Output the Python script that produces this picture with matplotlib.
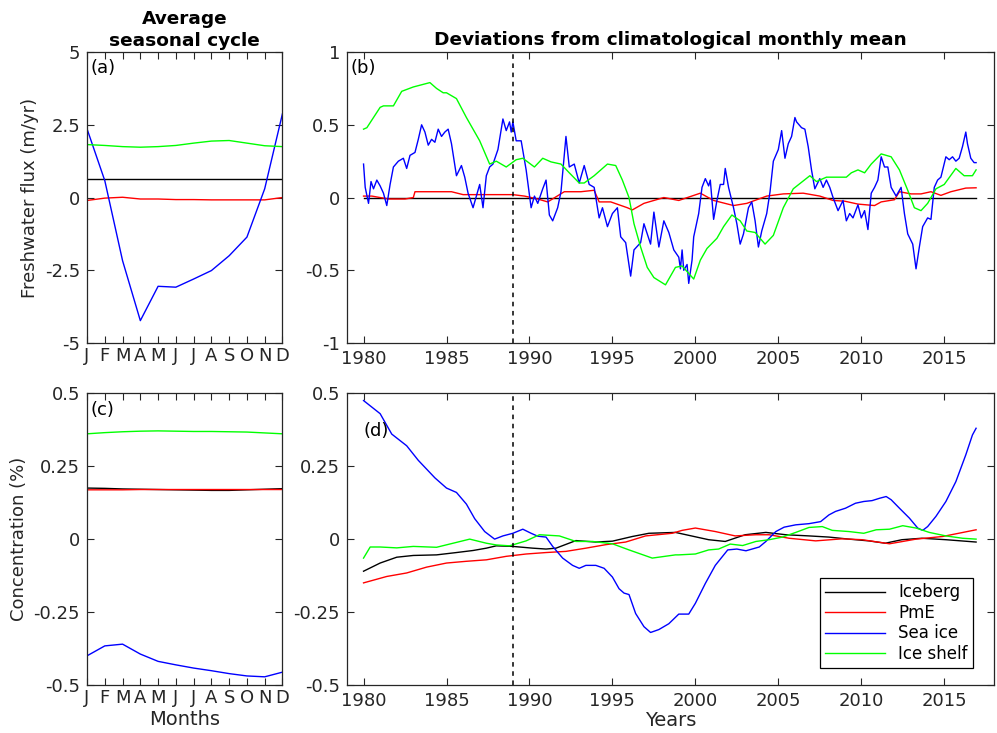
import matplotlib
matplotlib.use("Agg")
import matplotlib.pyplot as plt
from matplotlib.ticker import FuncFormatter

# ---- seasonal cycle (a), (c) ----
months = ['J', 'F', 'M', 'A', 'M', 'J', 'J', 'A', 'S', 'O', 'N', 'D']
month_num = list(range(1, 13))

a_iceberg = [0.63] * 12
a_pme = [-0.10, -0.02, 0.01, -0.05, -0.05, -0.07, -0.07, -0.08, -0.08, -0.08, -0.08, 0.0]
a_seaice = [2.36, 0.58, -2.17, -4.23, -3.05, -3.08, -2.80, -2.51, -2.00, -1.36, 0.30, 2.88]
a_iceshelf = [1.82, 1.79, 1.75, 1.73, 1.75, 1.79, 1.87, 1.94, 1.96, 1.87, 1.78, 1.75]

c_iceberg = [0.175, 0.174, 0.172, 0.171, 0.170, 0.169, 0.168, 0.167, 0.167, 0.169, 0.171, 0.173]
c_pme = [0.169, 0.169, 0.169, 0.170, 0.170, 0.170, 0.170, 0.170, 0.170, 0.170, 0.170, 0.170]
c_seaice = [-0.400, -0.366, -0.360, -0.394, -0.419, -0.431, -0.442, -0.451, -0.461, -0.469, -0.472, -0.456]
c_iceshelf = [0.361, 0.365, 0.368, 0.370, 0.371, 0.370, 0.369, 0.369, 0.368, 0.367, 0.364, 0.361]

# ---- deviations (b) ----
b_iceberg_t = [1980.0, 2016.92]
b_iceberg_v = [0.0, 0.0]

b_pme_t = [1980.0, 1980.5, 1981.0, 1981.5, 1982.0, 1982.5, 1983.0, 1983.1, 1984.0, 1985.0, 1985.3,
           1986.0, 1987.0, 1988.0, 1989.0, 1989.7, 1990.5, 1991.1, 1992.1, 1993.1, 1993.9, 1994.2,
           1994.9, 1995.9, 1996.2, 1996.9, 1998.1, 1999.0, 2000.3, 2001.1, 2002.3, 2003.1, 2004.3,
           2005.3, 2006.5, 2007.5, 2008.3, 2009.0, 2009.8, 2010.8, 2011.2, 2012.0, 2012.3, 2013.0,
           2013.6, 2014.2, 2014.8, 2015.4, 2016.3, 2016.92]
b_pme_v = [0.01, 0.01, 0.0, -0.01, -0.01, -0.01, 0.0, 0.04, 0.04, 0.04, 0.04,
           0.02, 0.02, 0.02, 0.02, 0.01, -0.01, -0.03, 0.04, 0.04, 0.05, -0.03,
           -0.03, -0.07, -0.085, -0.04, 0.0, -0.02, 0.03, -0.02, -0.055, -0.04, 0.01,
           0.025, 0.03, 0.01, -0.02, -0.025, -0.045, -0.055, -0.03, -0.015, 0.04, 0.025,
           0.025, 0.04, 0.015, 0.04, 0.065, 0.067]

b_seaice_t = [1980.0, 1980.1, 1980.3, 1980.45, 1980.6, 1980.8, 1981.0, 1981.2, 1981.4, 1981.6, 1981.8,
              1982.1, 1982.4, 1982.6, 1982.8, 1983.1, 1983.3, 1983.5, 1983.7, 1983.9, 1984.1, 1984.3,
              1984.5, 1984.7, 1984.9, 1985.1, 1985.3, 1985.6, 1985.9, 1986.1, 1986.3, 1986.6, 1986.8,
              1987.0, 1987.2, 1987.4, 1987.6, 1987.8, 1988.1, 1988.4, 1988.6, 1988.8, 1988.9, 1989.0,
              1989.2, 1989.5, 1989.8, 1990.1, 1990.3, 1990.5, 1990.8, 1991.0, 1991.2, 1991.4, 1991.7,
              1991.9, 1992.2, 1992.4, 1992.7, 1993.0, 1993.3, 1993.6, 1993.9, 1994.2, 1994.4, 1994.7,
              1995.0, 1995.3, 1995.5, 1995.8, 1996.1, 1996.3, 1996.7, 1996.9, 1997.3, 1997.5, 1997.8,
              1998.1, 1998.4, 1998.7, 1999.0, 1999.1, 1999.2, 1999.3, 1999.5, 1999.6, 1999.8, 1999.9,
              2000.2, 2000.4, 2000.6, 2000.8, 2000.9, 2001.1, 2001.3, 2001.5, 2001.7, 2001.8, 2002.0,
              2002.3, 2002.5, 2002.7, 2002.9, 2003.2, 2003.4, 2003.6, 2003.8, 2004.0, 2004.3, 2004.5,
              2004.7, 2005.0, 2005.2, 2005.4, 2005.6, 2005.8, 2006.0, 2006.1, 2006.4, 2006.6, 2006.8,
              2007.0, 2007.2, 2007.5, 2007.7, 2007.9, 2008.1, 2008.3, 2008.6, 2008.9, 2009.1, 2009.3,
              2009.5, 2009.8, 2010.0, 2010.2, 2010.4, 2010.6, 2010.8, 2011.0, 2011.2, 2011.4, 2011.6,
              2011.8, 2012.1, 2012.4, 2012.6, 2012.8, 2013.1, 2013.3, 2013.5, 2013.7, 2014.0, 2014.2,
              2014.4, 2014.6, 2014.8, 2015.1, 2015.3, 2015.5, 2015.7, 2015.9, 2016.1, 2016.3, 2016.4,
              2016.6, 2016.8, 2016.92]
b_seaice_v = [0.23, 0.07, -0.04, 0.11, 0.06, 0.12, 0.08, 0.03, -0.055, 0.09, 0.21,
              0.25, 0.27, 0.20, 0.29, 0.31, 0.40, 0.50, 0.45, 0.36, 0.40, 0.38,
              0.47, 0.42, 0.45, 0.47, 0.37, 0.15, 0.22, 0.14, 0.03, -0.07, 0.01,
              0.09, -0.07, 0.15, 0.21, 0.23, 0.33, 0.54, 0.46, 0.52, 0.45, 0.52,
              0.39, 0.39, 0.19, -0.07, 0.01, -0.04, 0.06, 0.12, -0.12, -0.16, -0.07,
              0.04, 0.42, 0.21, 0.23, 0.10, 0.22, 0.09, 0.07, -0.14, -0.07, -0.20,
              -0.11, -0.07, -0.27, -0.31, -0.54, -0.36, -0.31, -0.18, -0.32, -0.10, -0.34,
              -0.16, -0.24, -0.36, -0.41, -0.49, -0.36, -0.50, -0.46, -0.59, -0.43, -0.27,
              -0.11, 0.07, 0.13, 0.08, 0.12, -0.15, -0.02, 0.09, 0.09, 0.20, 0.07,
              -0.07, -0.18, -0.32, -0.25, -0.07, -0.03, -0.16, -0.34, -0.23, -0.11, 0.04,
              0.25, 0.33, 0.46, 0.27, 0.37, 0.42, 0.55, 0.52, 0.48, 0.47, 0.35,
              0.19, 0.06, 0.13, 0.07, 0.12, 0.07, 0.0, -0.09, -0.02, -0.16, -0.11,
              -0.14, -0.05, -0.14, -0.09, -0.22, 0.03, 0.07, 0.12, 0.28, 0.21, 0.21,
              0.07, 0.01, 0.07, -0.11, -0.25, -0.32, -0.49, -0.34, -0.20, -0.14, -0.15,
              0.07, 0.12, 0.14, 0.28, 0.26, 0.28, 0.25, 0.27, 0.35, 0.45, 0.37,
              0.27, 0.24, 0.24]

b_iceshelf_t = [1980.0, 1980.2, 1981.0, 1981.2, 1981.8, 1982.3, 1983.0, 1984.0, 1984.4, 1984.8, 1985.0,
                1985.6, 1986.2, 1987.0, 1987.6, 1988.0, 1988.6, 1989.2, 1989.6, 1990.3, 1990.8, 1991.3,
                1991.9, 1992.4, 1993.0, 1993.3, 1993.9, 1994.7, 1995.2, 1995.6, 1996.0, 1996.3, 1996.7,
                1997.1, 1997.5, 1998.2, 1998.8, 1999.2, 1999.9, 2000.3, 2000.7, 2001.3, 2001.7, 2002.2,
                2002.7, 2003.1, 2003.6, 2004.2, 2004.7, 2005.3, 2005.9, 2006.9, 2007.3, 2007.9, 2009.1,
                2009.4, 2009.8, 2010.2, 2010.6, 2011.2, 2011.8, 2012.3, 2012.8, 2013.2, 2013.6, 2014.0,
                2014.5, 2015.0, 2015.7, 2016.2, 2016.7, 2016.92]
b_iceshelf_v = [0.47, 0.48, 0.62, 0.63, 0.63, 0.73, 0.76, 0.79, 0.75, 0.72, 0.72,
                0.68, 0.55, 0.39, 0.23, 0.25, 0.21, 0.26, 0.27, 0.21, 0.27, 0.245,
                0.23, 0.17, 0.10, 0.10, 0.15, 0.23, 0.22, 0.12, 0.0, -0.18, -0.34,
                -0.48, -0.55, -0.60, -0.48, -0.47, -0.56, -0.43, -0.35, -0.28, -0.20, -0.12,
                -0.16, -0.23, -0.24, -0.32, -0.26, -0.07, 0.06, 0.15, 0.11, 0.14, 0.14,
                0.17, 0.19, 0.17, 0.23, 0.30, 0.28, 0.19, 0.05, -0.07, -0.09, -0.04,
                0.06, 0.09, 0.20, 0.15, 0.15, 0.19]

# ---- deviations (d) ----
d_iceberg_t = [1980.0, 1981.0, 1982.0, 1983.0, 1984.4, 1985.6, 1986.6, 1987.4, 1988.0, 1989.0, 1990.2,
               1991.0, 1991.6, 1992.8, 1994.0, 1995.0, 1996.2, 1997.2, 1998.8, 1999.6, 2000.8, 2001.8,
               2003.0, 2004.25, 2005.45, 2006.85, 2008.05, 2009.25, 2010.45, 2011.45, 2012.45, 2013.65,
               2015.1, 2016.92]
d_iceberg_v = [-0.11, -0.082, -0.062, -0.056, -0.054, -0.046, -0.039, -0.031, -0.023, -0.025, -0.031,
               -0.034, -0.031, -0.005, -0.01, -0.007, 0.009, 0.02, 0.023, 0.013, -0.002, -0.008,
               0.015, 0.023, 0.015, 0.011, 0.007, 0.0, -0.006, -0.014, -0.002, 0.003,
               -0.002, -0.01]

d_pme_t = [1980.0, 1981.4, 1982.6, 1983.8, 1985.0, 1986.2, 1987.4, 1988.6, 1989.8, 1991.0, 1992.2,
           1993.4, 1994.6, 1995.8, 1997.0, 1998.6, 1999.2, 2000.0, 2001.2, 2002.4, 2003.65, 2004.45,
           2005.65, 2007.25, 2008.85, 2010.05, 2011.7, 2013.3, 2014.9, 2016.92]
d_pme_v = [-0.15, -0.128, -0.116, -0.096, -0.082, -0.076, -0.071, -0.059, -0.051, -0.046, -0.042,
           -0.031, -0.019, -0.01, 0.011, 0.02, 0.03, 0.038, 0.026, 0.011, 0.015, 0.015,
           0.003, -0.006, 0.001, -0.002, -0.016, 0.0, 0.009, 0.032]

d_seaice_t = [1980.0, 1981.0, 1981.7, 1982.6, 1983.3, 1983.8, 1984.3, 1985.0, 1985.6, 1986.2, 1986.7,
              1987.3, 1987.9, 1988.4, 1989.0, 1989.6, 1990.1, 1990.5, 1991.0, 1991.4, 1992.0, 1992.6,
              1993.0, 1993.4, 1994.0, 1994.5, 1995.0, 1995.4, 1995.7, 1996.0, 1996.4, 1996.9, 1997.3,
              1997.8, 1998.4, 1999.0, 1999.6, 2000.0, 2000.6, 2001.2, 2001.95, 2002.5, 2003.05, 2003.85,
              2004.25, 2004.85, 2005.35, 2006.05, 2006.85, 2007.55, 2008.05, 2008.45, 2009.05, 2009.65,
              2010.15, 2010.65, 2011.1, 2011.5, 2011.8, 2012.3, 2012.9, 2013.4, 2013.7, 2014.0, 2014.5,
              2015.1, 2015.7, 2016.3, 2016.7, 2016.92]
d_seaice_v = [0.475, 0.43, 0.36, 0.32, 0.27, 0.24, 0.21, 0.175, 0.16, 0.12, 0.07,
              0.026, 0.0, 0.011, 0.02, 0.034, 0.02, 0.01, 0.007, -0.025, -0.065, -0.09,
              -0.10, -0.09, -0.09, -0.10, -0.13, -0.17, -0.185, -0.19, -0.255, -0.30, -0.32,
              -0.31, -0.29, -0.257, -0.257, -0.22, -0.152, -0.09, -0.037, -0.034, -0.04, -0.027,
              -0.008, 0.026, 0.041, 0.049, 0.053, 0.06, 0.083, 0.095, 0.106, 0.123,
              0.129, 0.132, 0.14, 0.146, 0.135, 0.106, 0.072, 0.038, 0.03, 0.043, 0.078,
              0.129, 0.197, 0.289, 0.357, 0.38]

d_iceshelf_t = [1980.0, 1980.4, 1981.0, 1982.0, 1983.0, 1984.4, 1985.4, 1986.4, 1987.4, 1988.0, 1988.8,
                1989.8, 1990.6, 1991.8, 1992.8, 1993.8, 1995.0, 1996.0, 1997.4, 1998.8, 1999.0, 2000.0,
                2000.8, 2001.4, 2002.1, 2002.85, 2003.65, 2004.45, 2005.25, 2006.05, 2006.85, 2007.65,
                2008.25, 2009.25, 2010.15, 2010.9, 2011.7, 2012.5, 2013.3, 2014.1, 2015.1, 2016.1,
                2016.92]
d_iceshelf_v = [-0.065, -0.027, -0.027, -0.03, -0.025, -0.028, -0.014, 0.0, -0.014, -0.02, -0.023,
                -0.006, 0.015, 0.011, -0.008, -0.008, -0.016, -0.037, -0.065, -0.054, -0.054, -0.051,
                -0.037, -0.034, -0.017, -0.022, -0.008, -0.002, 0.007, 0.023, 0.04, 0.043,
                0.03, 0.026, 0.02, 0.032, 0.034, 0.046, 0.038, 0.023, 0.011, 0.003,
                0.0]

labels = ['Iceberg', 'PmE', 'Sea ice', 'Ice shelf']
colors = ['k', 'r', 'b', '#00ff00']
year_ticks = [1980, 1985, 1990, 1995, 2000, 2005, 2010, 2015]
split_year = 1989

plt.rcParams['font.family'] = 'DejaVu Sans'
plt.rcParams['axes.edgecolor'] = '#262626'
plt.rcParams['xtick.color'] = '#262626'
plt.rcParams['ytick.color'] = '#262626'

fig = plt.figure(figsize=(9.97, 7.33), dpi=100)
ax_a = fig.add_axes([0.0873, 0.532, 0.196, 0.397])
ax_b = fig.add_axes([0.348, 0.532, 0.649, 0.397])
ax_c = fig.add_axes([0.0873, 0.0655, 0.196, 0.398])
ax_d = fig.add_axes([0.348, 0.0655, 0.649, 0.398])

gfmt = FuncFormatter(lambda v, p: '%g' % v)


def style(ax):
    ax.tick_params(direction='in', top=True, right=True, length=5, width=0.8,
                   labelsize=13, pad=5)
    for s in ax.spines.values():
        s.set_linewidth(0.9)
    ax.yaxis.set_major_formatter(gfmt)


# (a)
for vals, c in zip([a_iceberg, a_pme, a_seaice, a_iceshelf], colors):
    ax_a.plot(month_num, vals, color=c, lw=1)
ax_a.set_xlim(1, 12)
ax_a.set_ylim(-5, 5)
ax_a.set_yticks([-5, -2.5, 0, 2.5, 5])
ax_a.set_xticks(month_num)
ax_a.set_xticklabels(months)
style(ax_a)
ax_a.tick_params(axis='x', pad=3)
ax_a.set_ylabel('Freshwater flux (m/yr)', fontsize=13, color='#262626', labelpad=4)
ax_a.set_title('Average\nseasonal cycle', fontsize=13.3, fontweight='bold', pad=4,
               linespacing=1.3)
ax_a.text(0.02, 0.975, '(a)', transform=ax_a.transAxes, fontsize=13, va='top', ha='left')

# (c)
for vals, c in zip([c_iceberg, c_pme, c_seaice, c_iceshelf], colors):
    ax_c.plot(month_num, vals, color=c, lw=1)
ax_c.set_xlim(1, 12)
ax_c.set_ylim(-0.5, 0.5)
ax_c.set_yticks([-0.5, -0.25, 0, 0.25, 0.5])
ax_c.set_xticks(month_num)
ax_c.set_xticklabels(months)
style(ax_c)
ax_c.tick_params(axis='x', pad=3)
ax_c.set_ylabel('Concentration (%)', fontsize=13, color='#262626', labelpad=4)
ax_c.set_xlabel('Months', fontsize=14, color='#262626', labelpad=2)
ax_c.text(0.02, 0.975, '(c)', transform=ax_c.transAxes, fontsize=13, va='top', ha='left')

# (b)
b_series = [(b_iceberg_t, b_iceberg_v), (b_pme_t, b_pme_v), (b_seaice_t, b_seaice_v),
            (b_iceshelf_t, b_iceshelf_v)]
for (t, v), c in zip(b_series, colors):
    ax_b.plot(t, v, color=c, lw=1)
ax_b.axvline(split_year, color='k', ls='--', lw=1.1, dashes=(3, 3))
ax_b.set_xlim(1979, 2018)
ax_b.set_ylim(-1, 1)
ax_b.set_yticks([-1, -0.5, 0, 0.5, 1])
ax_b.set_xticks(year_ticks)
style(ax_b)
ax_b.set_title('Deviations from climatological monthly mean', fontsize=13.3,
               fontweight='bold', pad=5)
ax_b.text(0.005, 0.975, '(b)', transform=ax_b.transAxes, fontsize=13, va='top', ha='left')

# (d)
d_series = [(d_iceberg_t, d_iceberg_v), (d_pme_t, d_pme_v), (d_seaice_t, d_seaice_v),
            (d_iceshelf_t, d_iceshelf_v)]
for (t, v), c, lab in zip(d_series, colors, labels):
    ax_d.plot(t, v, color=c, lw=1, label=lab)
ax_d.axvline(split_year, color='k', ls='--', lw=1.1, dashes=(3, 3))
ax_d.set_xlim(1979, 2018)
ax_d.set_ylim(-0.5, 0.5)
ax_d.set_yticks([-0.5, -0.25, 0, 0.25, 0.5])
ax_d.set_xticks(year_ticks)
style(ax_d)
ax_d.set_xlabel('Years', fontsize=14, color='#262626', labelpad=1)
ax_d.text(0.025, 0.9, '(d)', transform=ax_d.transAxes, fontsize=13, va='top', ha='left')
leg = ax_d.legend(loc='lower right', fontsize=12, fancybox=False, edgecolor='k',
                  framealpha=1, handlelength=3.6, borderpad=0.3, labelspacing=0.15,
                  bbox_to_anchor=(0.98, 0.03))
leg.get_frame().set_linewidth(0.9)

fig.savefig('out.png', dpi=100)
